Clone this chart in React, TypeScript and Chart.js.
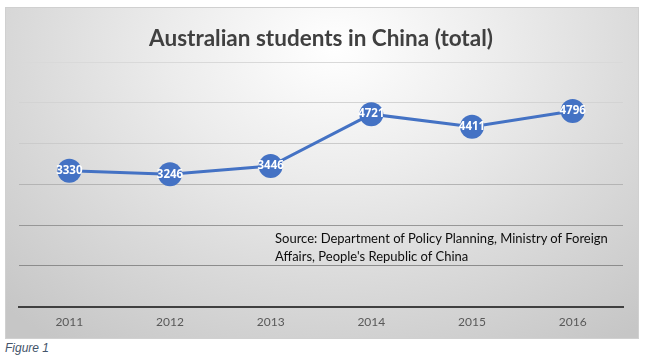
import React, { useEffect, useRef } from "react";
import { Chart, registerables } from "chart.js";

Chart.register(...registerables);

const years = ["2011", "2012", "2013", "2014", "2015", "2016"];
const students = [3330, 3246, 3446, 4721, 4411, 4796];
const yTicks = [0, 1000, 2000, 3000, 4000, 5000, 6000];
const gridColors: Record<number, string> = {
  6000: "#d9d9d9",
  5000: "#d3d3d3",
  4000: "#cbcbcb",
  3000: "#b4b4b4",
  2000: "#979797",
  1000: "#8c8c8c",
  0: "rgba(0,0,0,0)",
};
const titleText = "Australian students in China (total)";
const sourceLines = [
  "Source: Department of Policy Planning, Ministry of Foreign",
  "Affairs, People's Republic of China",
];
const captionText = "Figure 1";

const labelPlugin = {
  id: "pointLabels",
  afterDatasetsDraw(chart: any) {
    const ctx = chart.ctx;
    const meta = chart.getDatasetMeta(0);
    ctx.save();
    ctx.fillStyle = "#ffffff";
    ctx.font = "bold 11.5px 'Noto Sans', sans-serif";
    ctx.textAlign = "center";
    ctx.textBaseline = "middle";
    meta.data.forEach((pt: any, i: number) => {
      ctx.fillText(String(chart.data.datasets[0].data[i]), pt.x, pt.y);
    });
    ctx.restore();
  },
};

export default function App() {
  const ref = useRef<HTMLCanvasElement | null>(null);
  useEffect(() => {
    if (!ref.current) return;
    const chart = new Chart(ref.current, {
      type: "line",
      data: {
        labels: years,
        datasets: [
          {
            data: students,
            borderColor: "#4472C4",
            borderWidth: 3,
            backgroundColor: "#4472C4",
            pointRadius: 12,
            pointHoverRadius: 12,
            pointBackgroundColor: "#4472C4",
            pointBorderColor: "#4472C4",
            pointBorderWidth: 0,
            tension: 0,
          },
        ],
      },
      options: {
        responsive: false,
        animation: false,
        devicePixelRatio: 1,
        layout: { padding: { left: 14, right: 16, top: 0, bottom: 2 } },
        plugins: {
          legend: { display: false },
          tooltip: { enabled: false },
          title: {
            display: true,
            text: titleText,
            color: "#404040",
            font: { family: "Lato, 'Open Sans', sans-serif", size: 22.5, weight: "bold" },
            padding: { top: 18, bottom: 10 },
          },
        },
        scales: {
          x: {
            offset: true,
            grid: { display: false, drawTicks: false },
            border: { display: true, color: "#404040", width: 2 },
            ticks: {
              color: "#595959",
              font: { family: "Lato, 'Open Sans', sans-serif", size: 12 },
              padding: 8,
            },
          },
          y: {
            min: 0,
            max: 6000,
            afterBuildTicks: (scale: any) => {
              scale.ticks = yTicks.map((v) => ({ value: v }));
            },
            grid: {
              drawTicks: false,
              color: (c: any) => gridColors[c.tick?.value] ?? "#d9d9d9",
              lineWidth: 1,
            },
            border: { display: false },
            ticks: { display: false },
          },
        },
      },
      plugins: [labelPlugin],
    });
    return () => chart.destroy();
  }, []);

  return (
    <div style={{ position: "absolute", left: 0, top: 0, width: 645, height: 363, background: "#ffffff" }}>
      <div
        style={{
          position: "absolute",
          left: 5,
          top: 7,
          width: 634,
          height: 332,
          boxSizing: "border-box",
          border: "1px solid #d0d0d0",
          background:
            "radial-gradient(ellipse 75% 110% at 52% 12%, #ffffff 0%, #ececec 35%, #dadada 65%, #c6c6c6 100%)",
        }}
      />
      <canvas
        ref={ref}
        width={634}
        height={332}
        style={{ position: "absolute", left: 5, top: 7, width: 634, height: 332 }}
      />
      <div
        style={{
          position: "absolute",
          left: 275,
          top: 229,
          fontFamily: "Lato, 'Open Sans', sans-serif",
          fontSize: 13,
          lineHeight: "18px",
          color: "#0d0d0d",
          whiteSpace: "nowrap",
        }}
      >
        {sourceLines[0]}
        <br />
        {sourceLines[1]}
      </div>
      <div
        style={{
          position: "absolute",
          left: 5,
          top: 341,
          fontFamily: "'Liberation Sans', Arial, sans-serif",
          fontStyle: "italic",
          fontSize: 12,
          color: "#44546a",
        }}
      >
        {captionText}
      </div>
    </div>
  );
}
